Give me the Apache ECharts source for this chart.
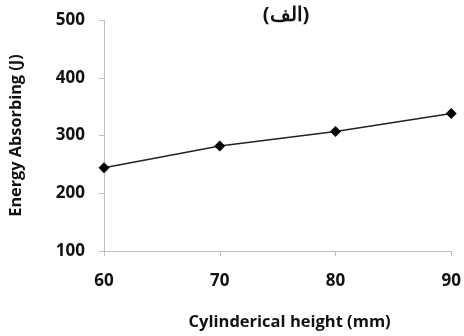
<!DOCTYPE html>
<html><head><meta charset="utf-8">
<script src="https://cdn.jsdelivr.net/npm/echarts@6/dist/echarts.min.js"></script>
<style>html,body{margin:0;padding:0;background:#fff}#c{width:464px;height:336px}</style>
</head><body><div id="c"></div>
<script>
const xValues = [60, 70, 80, 90];
const energy = [244, 282, 307, 338];
const titleText = '(الف)';
const xName = 'Cylinderical height (mm)';
const yName = 'Energy Absorbing (J)';

const font = '"Open Sans", Lato, sans-serif';
const chart = echarts.init(document.getElementById('c'));
chart.setOption({
  animation: false,
  title: { text: titleText, left: 281, top: 0, textAlign: 'center',
    textStyle: { fontFamily: 'Noto Sans, sans-serif', fontSize: 20, fontWeight: 'bold', color: '#111' } },
  grid: { left: 101, right: 7, top: 20, bottom: 83 },
  xAxis: {
    type: 'value', min: 60, max: 90, interval: 10,
    name: xName, nameLocation: 'middle', nameGap: 63,
    nameTextStyle: { fontFamily: font, fontSize: 16.5, fontWeight: 'bold', color: '#111', padding: [0, 0, 0, 24] },
    axisLine: { lineStyle: { color: '#bfbfbf' } },
    axisTick: { show: true, length: 5, lineStyle: { color: '#bfbfbf' } },
    axisLabel: { fontFamily: font, fontSize: 17, fontWeight: 'bold', color: '#111', margin: 22 },
    splitLine: { show: false }
  },
  yAxis: {
    type: 'value', min: 100, max: 500, interval: 100,
    name: yName, nameLocation: 'middle', nameGap: 80, nameRotate: 90,
    nameTextStyle: { fontFamily: font, fontSize: 16.3, fontWeight: 'bold', color: '#111' },
    axisLine: { show: true, lineStyle: { color: '#bfbfbf' } },
    axisTick: { show: true, length: 5, lineStyle: { color: '#bfbfbf' } },
    axisLabel: { fontFamily: font, fontSize: 17, fontWeight: 'bold', color: '#111', margin: 19 },
    splitLine: { show: false }
  },
  series: [{
    type: 'line',
    data: xValues.map((x, i) => [x, energy[i]]),
    symbol: 'diamond', symbolSize: 11,
    lineStyle: { color: '#222', width: 1.5 },
    itemStyle: { color: '#000' }
  }]
});
</script></body></html>
